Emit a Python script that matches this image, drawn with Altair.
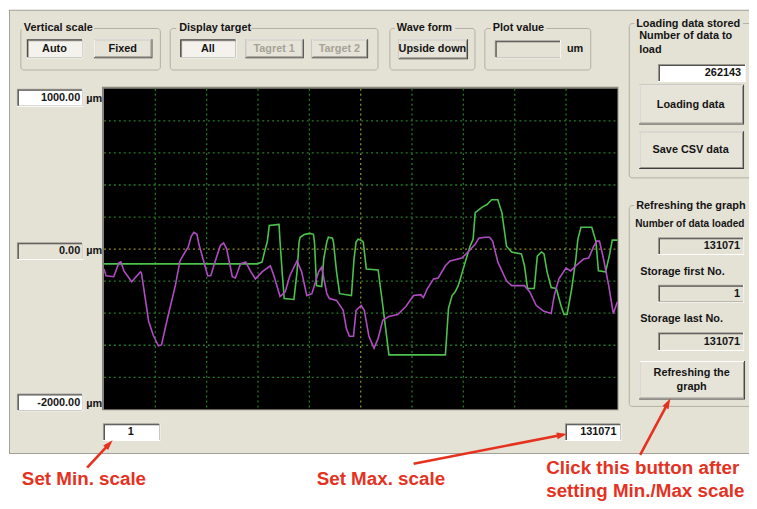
import altair as alt
import pandas as pd
import numpy as np

# ---------------- data (x: screen divisions 0..10 = samples 1..131071, y: divisions, 0 = 0.00 um line)
green_x = [0.00, 2.85, 2.99, 3.08, 3.14, 3.18, 3.22, 3.41, 3.43, 3.47, 3.51, 3.70, 3.76, 3.80, 3.82,
           3.91, 4.01, 4.08, 4.10, 4.14, 4.24, 4.28, 4.34, 4.37, 4.45, 4.47, 4.53, 4.59, 4.82, 4.87,
           4.91, 4.95, 5.01, 5.05, 5.11, 5.34, 5.43, 5.55, 6.65, 6.71, 6.78, 6.84, 6.90, 6.98, 7.07,
           7.13, 7.19, 7.23, 7.36, 7.46, 7.55, 7.67, 7.75, 7.84, 7.94, 8.13, 8.19, 8.25, 8.38, 8.44,
           8.52, 8.57, 8.63, 8.71, 8.81, 8.90, 8.96, 9.02, 9.11, 9.19, 9.23, 9.29, 9.50, 9.58, 9.63,
           9.77, 9.85, 9.90, 10.00]
green_y = [-0.46, -0.46, -0.46, -0.40, 0.00, 0.22, 0.74, 0.77, 0.22, -0.71, -1.54, -1.57, -0.71, 0.22, 0.37,
           0.46, 0.49, 0.46, 0.22, -1.14, -1.17, -0.31, 0.22, 0.37, 0.34, 0.22, -0.71, -1.39, -1.45, -0.31,
           0.22, 0.31, 0.28, 0.22, -0.62, -0.65, -1.76, -3.30, -3.30, -1.85, -1.45, -1.33, -1.14, -0.71, -0.22,
           0.09, 0.31, 1.14, 1.30, 1.39, 1.54, 1.54, 1.14, 0.09, -0.09, -0.15, -0.52, -1.23, -1.23, -0.22,
           -0.09, -0.15, -0.71, -1.20, -1.23, -1.76, -2.04, -2.04, -1.23, -0.31, 0.31, 0.68, 0.68, 0.25, -0.68,
           -0.71, -0.15, 0.28, 0.28]

magenta_x = [0.00, 0.04, 0.19, 0.29, 0.33, 0.39, 0.54, 0.71, 0.73, 0.87, 0.96, 1.06, 1.12, 1.25, 1.39,
             1.48, 1.58, 1.64, 1.70, 1.75, 1.81, 1.85, 1.93, 2.02, 2.08, 2.18, 2.27, 2.33, 2.39, 2.50,
             2.56, 2.66, 2.76, 2.85, 2.95, 3.08, 3.24, 3.31, 3.43, 3.53, 3.62, 3.76, 3.85, 3.95, 4.05,
             4.18, 4.24, 4.34, 4.39, 4.53, 4.66, 4.72, 4.78, 4.86, 4.91, 5.01, 5.07, 5.16, 5.26, 5.34,
             5.43, 5.55, 5.72, 5.88, 6.03, 6.17, 6.22, 6.30, 6.42, 6.51, 6.65, 6.74, 6.97, 7.09, 7.23,
             7.30, 7.42, 7.51, 7.57, 7.67, 7.84, 7.94, 8.19, 8.29, 8.42, 8.57, 8.71, 8.77, 8.86, 9.00,
             9.09, 9.19, 9.34, 9.44, 9.54, 9.60, 9.65, 9.73, 9.83, 9.92, 10.00]
magenta_y = [-0.62, -0.83, -0.86, -0.43, -0.40, -0.68, -1.02, -0.71, -0.74, -2.25, -2.69, -3.02, -2.99, -2.07, -1.14,
             -0.37, -0.09, 0.06, 0.40, 0.52, 0.46, 0.15, -0.31, -0.83, -0.83, -0.31, 0.12, 0.19, 0.00, -0.86,
             -0.90, -0.46, -0.40, -0.68, -0.93, -0.71, -0.52, -0.83, -1.48, -1.33, -0.83, -0.37, -0.71, -1.45, -1.39,
             -0.71, -0.56, -1.39, -1.54, -1.60, -1.91, -2.47, -2.72, -2.72, -1.91, -1.76, -1.91, -2.72, -3.09, -2.78,
             -2.22, -2.10, -2.04, -1.79, -1.45, -1.42, -1.51, -1.23, -0.93, -0.90, -0.52, -0.37, -0.28, -0.09, 0.15,
             0.34, 0.37, 0.37, 0.25, -0.40, -0.99, -1.14, -1.14, -1.33, -1.76, -1.94, -2.01, -1.45, -0.93, -0.59,
             -0.68, -0.52, -0.31, -0.28, 0.09, 0.25, 0.25, -0.31, -1.14, -2.01, -1.64]

grid_x = [1, 2, 3, 4, 6, 7, 8, 9]
grid_y = [-4, -3, -2, -1, 1, 2, 3, 4]
center_x = [5]
center_y = [0]

# ---------------- layout (screenshot pixels; page margin is 8px)
OFF = 8
W, H = 749, 501
PL, PR, PT, PB = 105, 624, 87, 411
BG = "#E4E1D5"
FACE = "#E6E3D8"

rects = []


def R(x1, y1, x2, y2, fill):
    rects.append(dict(x1=x1 - OFF, y1=y1 - OFF, x2=x2 - OFF, y2=y2 - OFF, fill=fill))


def raised(x1, y1, x2, y2):
    R(x1, y1, x2, y2, "#3C3C3C")
    R(x1, y1, x2 - 1, y2 - 1, "#FFFFFF")
    R(x1 + 1, y1 + 1, x2 - 1, y2 - 1, "#9A978D")
    R(x1 + 1, y1 + 1, x2 - 2, y2 - 2, FACE)


def sunken_btn(x1, y1, x2, y2):
    R(x1, y1, x2, y2, "#FFFFFF")
    R(x1, y1, x2 - 1, y2 - 1, "#3C3C3C")
    R(x1 + 1, y1 + 1, x2 - 1, y2 - 1, "#9A978D")
    R(x1 + 2, y1 + 2, x2 - 1, y2 - 1, "#F4F2EC")


def textbox(x1, y1, x2, y2, fill):
    R(x1, y1, x2, y2, "#FFFFFF")
    R(x1, y1, x2 - 1, y2 - 1, "#9A978D")
    R(x1 + 1, y1 + 1, x2 - 1, y2 - 1, "#505050")
    R(x1 + 2, y1 + 2, x2 - 1, y2 - 1, fill)


frames = [(21, 26, 162, 68), (172, 26, 382, 68), (394, 26, 480, 68), (490, 26, 597, 68),
          (636, 21, 765, 177), (636, 205, 765, 408)]
title_backs = [(22, 95, 26), (178, 254, 26), (399, 460, 26), (496, 552, 26), (641, 751, 21), (641, 757, 205)]
for x1, x2, yy in title_backs:
    R(x1, yy - 7, x2, yy + 7, BG)

sunken_btn(27, 37, 84, 56)
raised(95, 37, 154, 56)
sunken_btn(182, 37, 239, 56)
raised(248, 37, 307, 56)
raised(315, 37, 372, 56)
raised(403, 37, 473, 57)
textbox(500, 38, 567, 56, BG)
textbox(665, 62, 754, 80, "#FFFFFF")
raised(646, 83, 752, 123)
raised(646, 130, 752, 168)
textbox(665, 237, 752, 255, BG)
textbox(665, 285, 752, 303, BG)
textbox(665, 333, 752, 352, BG)
raised(646, 362, 753, 401)
textbox(17, 87, 84, 105, "#FFFFFF")
textbox(17, 242, 84, 260, BG)
textbox(17, 395, 84, 413, "#FFFFFF")
textbox(104, 425, 162, 443, "#FFFFFF")
textbox(571, 425, 628, 443, "#FFFFFF")
R(PL - 2, PT - 2, PR + 1, PB + 1, "#8A877E")
R(PL, PT, PR, PB, "#000000")

panel = pd.DataFrame([dict(x1=9 - OFF, y1=7 - OFF, x2=765 - OFF, y2=456 - OFF, fill="#A3A098"),
                      dict(x1=10 - OFF, y1=8 - OFF, x2=765 - OFF, y2=455 - OFF, fill=BG)])
rect_df = pd.DataFrame(rects)
frame_df = pd.DataFrame([dict(x1=a - OFF, y1=b - OFF, x2=c - OFF, y2=d - OFF) for a, b, c, d in frames])


def rect_layer(df):
    return alt.Chart(df).mark_rect().encode(
        x=alt.X("x1:Q", scale=None, axis=None), x2="x2:Q",
        y=alt.Y("y1:Q", scale=None, axis=None), y2="y2:Q",
        color=alt.Color("fill:N", scale=None))


panel_layer = rect_layer(panel)
frame_layer = alt.Chart(frame_df).mark_rect(fillOpacity=0, stroke="#B3AFA3", strokeWidth=1, cornerRadius=3).encode(
    x=alt.X("x1:Q", scale=None, axis=None), x2="x2:Q",
    y=alt.Y("y1:Q", scale=None, axis=None), y2="y2:Q")
box_layer = rect_layer(rect_df)

# ---------------- plot
xs = alt.Scale(domain=[0, 10], range=[PL - OFF, PR - OFF], nice=False, zero=False)
ys = alt.Scale(domain=[-5, 5], range=[PB - OFF, PT - OFF], nice=False, zero=False)

GRID = "#257A25"
CEN = "#8E8A22"
vgrid = alt.Chart(pd.DataFrame({"x": grid_x})).mark_rule(color=GRID, strokeDash=[2, 3], strokeWidth=1.3).encode(
    x=alt.X("x:Q", scale=xs, axis=None), y=alt.value(PT - OFF), y2=alt.value(PB - OFF))
hgrid = alt.Chart(pd.DataFrame({"y": grid_y})).mark_rule(color=GRID, strokeDash=[2, 3], strokeWidth=1.3).encode(
    y=alt.Y("y:Q", scale=ys, axis=None), x=alt.value(PL - OFF), x2=alt.value(PR - OFF))
vcen = alt.Chart(pd.DataFrame({"x": center_x})).mark_rule(color=CEN, strokeDash=[2, 3], strokeWidth=1.3).encode(
    x=alt.X("x:Q", scale=xs, axis=None), y=alt.value(PT - OFF), y2=alt.value(PB - OFF))
hcen = alt.Chart(pd.DataFrame({"y": center_y})).mark_rule(color=CEN, strokeDash=[2, 3], strokeWidth=1.3).encode(
    y=alt.Y("y:Q", scale=ys, axis=None), x=alt.value(PL - OFF), x2=alt.value(PR - OFF))

mag_df = pd.DataFrame({"x": magenta_x, "y": magenta_y, "i": range(len(magenta_x))})
grn_df = pd.DataFrame({"x": green_x, "y": green_y, "i": range(len(green_x))})
mag_line = alt.Chart(mag_df).mark_line(color="#B04CC2", strokeWidth=1.6).encode(
    x=alt.X("x:Q", scale=xs, axis=None), y=alt.Y("y:Q", scale=ys, axis=None), order="i:Q")
grn_line = alt.Chart(grn_df).mark_line(color="#4CC24C", strokeWidth=1.6).encode(
    x=alt.X("x:Q", scale=xs, axis=None), y=alt.Y("y:Q", scale=ys, axis=None), order="i:Q")

# ---------------- texts
DARK = "#141414"
GRAY = "#A6A296"
left_t = [("Vertical scale", 24, 26, DARK), ("Display target", 181, 26, DARK), ("Wave form", 401, 26, DARK),
          ("Plot value", 498, 26, DARK), ("um", 573, 47, DARK), ("Loading data stored", 643, 21, DARK),
          ("Number of data to", 646, 34, DARK), ("load", 646, 48, DARK),
          ("Refreshing the graph", 643, 205, DARK),
          ("Storage first No.", 647, 272, DARK), ("Storage last No.", 647, 320, DARK),
          ("µm", 87, 97, DARK), ("µm", 87, 251, DARK), ("µm", 87, 406, DARK)]
center_t = [("Auto", 55, 47, DARK), ("Fixed", 124, 47, DARK), ("All", 210, 47, DARK),
            ("Tagret 1", 277, 47, GRAY), ("Target 2", 343, 47, GRAY), ("Upside down", 437, 47, DARK),
            ("Loading data", 698, 103, DARK), ("Save CSV data", 698, 149, DARK),
            ("Refreshing the", 699, 374, DARK), ("graph", 699, 388, DARK), ("1", 132, 434, DARK)]
right_t = [("262143", 749, 71, DARK), ("131071", 748, 246, DARK), ("1", 748, 294, DARK),
           ("131071", 748, 343, DARK), ("1000.00", 81, 96, DARK), ("0.00", 81, 251, DARK),
           ("-2000.00", 81, 405, DARK), ("131071", 623, 434, DARK)]
small_t = [("Number of data loaded", 642, 224, DARK)]
red_t = [("Set Min. scale", 22, 481), ("Set Max. scale", 320, 481),
         ("Click this button after", 552, 470), ("setting Min./Max scale", 552, 494)]


def tdf(items):
    return pd.DataFrame([dict(t=t, x=x - OFF, y=y - OFF, c=c) for t, x, y, c in items])


def text_layer(items, align, size=11):
    return alt.Chart(tdf(items)).mark_text(align=align, baseline="middle", font="Liberation Sans",
                                           fontWeight="bold", fontSize=size).encode(
        x=alt.X("x:Q", scale=None, axis=None), y=alt.Y("y:Q", scale=None, axis=None),
        text="t:N", color=alt.Color("c:N", scale=None))


RED = "#E5321F"
red_layer = alt.Chart(pd.DataFrame([dict(t=t, x=x - OFF, y=y - OFF) for t, x, y in red_t])).mark_text(
    align="left", baseline="middle", font="Liberation Sans", fontWeight="bold", fontSize=19, color=RED).encode(
    x=alt.X("x:Q", scale=None, axis=None), y=alt.Y("y:Q", scale=None, axis=None), text="t:N")

# ---------------- arrows (tail -> tip)
arrows = [((88, 470), (113, 443)), ((418, 466), (572, 436)), ((647, 457), (677, 401))]
seg, heads = [], []
for (tx, ty), (hx, hy) in arrows:
    dx, dy = hx - tx, hy - ty
    L = np.hypot(dx, dy)
    ux, uy = dx / L, dy / L
    seg.append(dict(x1=tx - OFF, y1=ty - OFF, x2=hx - 6 * ux - OFF, y2=hy - 6 * uy - OFF))
    heads.append(dict(x=hx - 5 * ux - OFF, y=hy - 5 * uy - OFF, a=float(np.degrees(np.arctan2(dx, -dy)))))
arrow_line = alt.Chart(pd.DataFrame(seg)).mark_rule(color=RED, strokeWidth=2.6).encode(
    x=alt.X("x1:Q", scale=None, axis=None), x2="x2:Q",
    y=alt.Y("y1:Q", scale=None, axis=None), y2="y2:Q")
arrow_head = alt.Chart(pd.DataFrame(heads)).mark_point(
    shape="M0,-1L0.55,0.7L-0.55,0.7Z", filled=True, size=150, color=RED, opacity=1).encode(
    x=alt.X("x:Q", scale=None, axis=None), y=alt.Y("y:Q", scale=None, axis=None),
    angle=alt.Angle("a:Q", scale=None))

chart = alt.layer(
    panel_layer, frame_layer, box_layer,
    vgrid, hgrid, vcen, hcen, grn_line, mag_line,
    text_layer(left_t, "left"), text_layer(center_t, "center"), text_layer(right_t, "right"),
    text_layer(small_t, "left", 10.2),
    red_layer, arrow_line, arrow_head
).resolve_scale(
    x="independent", y="independent", color="independent", angle="independent"
).properties(
    width=W, height=H, autosize=alt.AutoSizeParams(type="none"), padding=0, background="#FFFFFF"
).configure_view(strokeWidth=0)

chart.save("out.html", embed_options={"renderer": "svg", "actions": False})
